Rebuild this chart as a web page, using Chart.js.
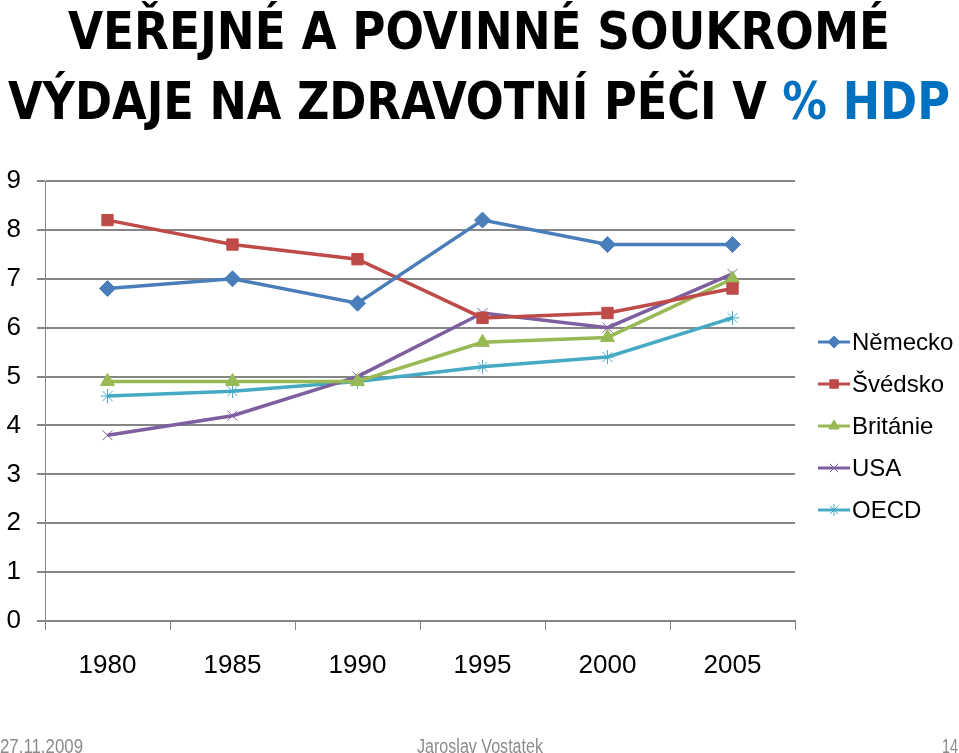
<!DOCTYPE html>
<html>
<head>
<meta charset="utf-8">
<script src="https://cdn.jsdelivr.net/npm/chart.js@4.4.1/dist/chart.umd.min.js"></script>
<style>
  html, body { margin: 0; padding: 0; background: #fff; overflow: hidden; }
  #wrap { position: relative; width: 959px; height: 753px; }
  #chart { position: absolute; left: 0; top: 0; }
  .title {
    position: absolute; white-space: nowrap; color: #000;
    font-family: "Liberation Sans Narrow", "DejaVu Sans Condensed", "Liberation Sans", sans-serif;
    font-weight: bold; font-size: 52px; line-height: 52px;
    transform-origin: 0 0;
  }
  .title .hl { color: #0070C0; }
  .foot {
    position: absolute; white-space: nowrap; color: #8B8B8B;
    font-family: "Liberation Sans Narrow", "Liberation Sans", sans-serif;
    font-size: 20px; line-height: 20px; transform-origin: 0 0;
  }
</style>
</head>
<body>
<div id="wrap">
  <canvas id="chart" width="959" height="753"></canvas>
  <div class="title" id="t1" data-x="68" data-w="822" style="top:5px">VEŘEJNÉ A POVINNÉ SOUKROMÉ</div>
  <div class="title" id="t2" data-x="8" data-w="942" style="top:75px">VÝDAJE NA ZDRAVOTNÍ PÉČI V <span class="hl">% HDP</span></div>
  <div class="foot" data-x="0" data-w="83" style="top:736px">27.11.2009</div>
  <div class="foot" data-x="417" data-w="126" style="top:736px">Jaroslav Vostatek</div>
  <div class="foot" data-x="942" data-w="16" style="top:736px">14</div>
</div>
<script>
  // Values
  const years = ['1980', '1985', '1990', '1995', '2000', '2005'];
  const nemecko = [6.8, 7.0, 6.5, 8.2, 7.7, 7.7];
  const svedsko = [8.2, 7.7, 7.4, 6.2, 6.3, 6.8];
  const britanie = [4.9, 4.9, 4.9, 5.7, 5.8, 7.0];
  const usa = [3.8, 4.2, 5.0, 6.3, 6.0, 7.1];
  const oecd = [4.6, 4.7, 4.9, 5.2, 5.4, 6.2];

  // stretch the text blocks to the widths seen in the picture
  document.querySelectorAll('[data-w]').forEach(el => {
    const w = el.getBoundingClientRect().width;
    const target = parseFloat(el.dataset.w);
    el.style.left = el.dataset.x + 'px';
    el.style.transform = 'scaleX(' + (target / w) + ')';
  });

  function series(label, data, color, style, radius) {
    return {
      label: label,
      data: data,
      borderColor: color,
      backgroundColor: color,
      borderWidth: 3.5,
      pointStyle: style,
      pointRadius: radius,
      pointBorderWidth: 1,
      pointBackgroundColor: color,
      pointBorderColor: color,
      tension: 0
    };
  }

  const datasets = [
    series('Německo', nemecko, '#4A7EBB', 'rectRot', 8),
    series('Švédsko', svedsko, '#BE4B48', 'rect', 8),
    series('Británie', britanie, '#98B954', 'triangle', 8),
    series('USA', usa, '#7D5FA0', 'crossRot', 7),
    series('OECD', oecd, '#46AAC5', 'star', 7)
  ];

  // legend with a line segment and marker, like the office chart
  const lineLegend = {
    id: 'lineLegend',
    afterDraw(chart) {
      const ctx = chart.ctx;
      const x0 = 818, x1 = 850, top = 342, step = 42;
      ctx.save();
      chart.data.datasets.forEach((ds, i) => {
        const y = top + i * step;
        ctx.strokeStyle = ds.borderColor;
        ctx.lineWidth = 3;
        ctx.beginPath();
        ctx.moveTo(x0, y);
        ctx.lineTo(x1, y);
        ctx.stroke();
        ctx.fillStyle = ds.borderColor;
        ctx.strokeStyle = ds.borderColor;
        ctx.lineWidth = 1;
        Chart.helpers.drawPoint(ctx, { pointStyle: ds.pointStyle, radius: 6, borderWidth: 1 }, (x0 + x1) / 2, y);
        ctx.fillStyle = '#000';
        ctx.font = '24px "Liberation Sans", Arial, sans-serif';
        ctx.textBaseline = 'middle';
        ctx.textAlign = 'left';
        ctx.fillText(ds.label, 852, y + 1);
      });
      ctx.restore();
    }
  };

  const tickFont = { family: '"Liberation Sans", Arial, sans-serif', size: 26 };

  new Chart(document.getElementById('chart'), {
    type: 'line',
    data: { labels: years, datasets: datasets },
    options: {
      responsive: false,
      animation: false,
      layout: { padding: { top: 181, left: 0, right: 164, bottom: 0 } },
      plugins: {
        legend: { display: false },
        tooltip: { enabled: false }
      },
      scales: {
        x: {
          offset: true,
          grid: {
            offset: true,
            drawOnChartArea: false,
            drawTicks: true,
            tickLength: 9,
            color: '#868686',
            lineWidth: 1
          },
          border: { display: true, color: '#868686', width: 2 },
          ticks: { color: '#000', font: tickFont, padding: 20, maxRotation: 0 },
          afterFit(scale) { scale.height = 132; }
        },
        y: {
          min: 0,
          max: 9,
          ticks: { stepSize: 1, color: '#000', font: tickFont, padding: 16 },
          grid: { color: '#868686', lineWidth: 2, drawTicks: true, tickLength: 8 },
          border: { display: true, color: '#868686', width: 1 },
          afterFit(scale) { scale.width = 45; }
        }
      }
    },
    plugins: [lineLegend]
  });
</script>
</body>
</html>
